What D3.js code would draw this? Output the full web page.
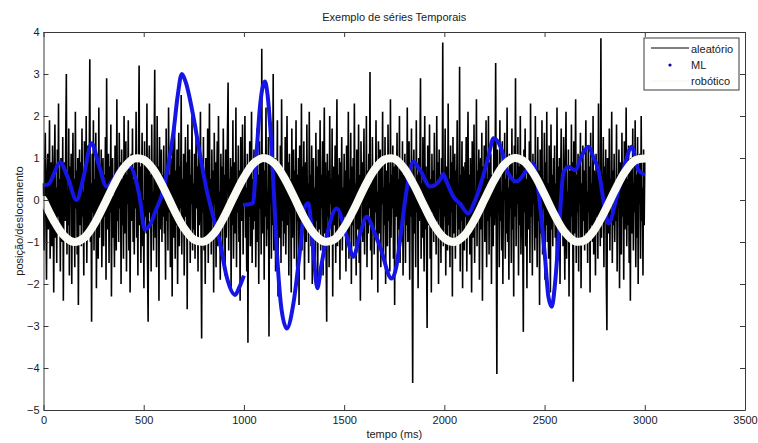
<!DOCTYPE html>
<html>
<head>
<meta charset="utf-8">
<script src="https://cdn.jsdelivr.net/npm/d3@7"></script>
<style>
  body { margin: 0; background: #fff; }
  text { font-family: "Liberation Sans", Arial, sans-serif; font-size: 11px; fill: #1a1a1a; }
</style>
</head>
<body>
<div id="chart"></div>
<script>
// random series ("aleatório"), one sample every 3 ms from 0 to 3000
const noiseValues = [
  0.4,-1.2,0.8,1.6,-0.3,-1.9,0.6,1.1,-0.7,0.2,1.9,-1.4,-0.2,0.9,-1.1,1.3,0.1,-2.2,0.7,1.8,-0.9,0.3,-1.5,1.2,-0.4,2.3,-0.8,0.5,-1.7,1.0,0.0,-1.0,1.5,-2.4,0.6,0.9,-0.5,1.4,3.0,-1.3,0.2,-0.6,1.7,-1.8,0.8,-0.1,1.1,-2.0,0.4,1.6,
  -0.9,0.5,-1.6,2.1,-0.2,0.7,-1.3,1.0,-2.5,0.3,1.2,-0.6,0.9,-1.1,1.7,-0.4,0.2,-1.8,1.4,0.6,-0.8,2.0,-1.5,0.1,1.3,-0.7,0.8,3.35,-1.0,0.4,-2.9,1.1,-0.3,1.9,-1.2,0.5,-0.5,1.6,-2.1,0.9,0.0,-1.4,2.2,-0.9,0.7,-0.2,1.2,-1.6,0.3,1.0,
  -1.1,0.6,-0.4,1.5,-1.9,2.9,-0.7,0.2,1.1,-1.5,0.8,-0.3,1.8,-2.3,0.4,1.0,-0.9,0.1,-1.6,1.3,0.7,-1.2,2.4,-0.5,0.3,-1.0,1.6,-0.2,0.9,-2.0,1.2,-0.6,0.5,-1.4,2.0,-0.8,0.0,1.4,-1.7,0.6,-0.1,1.9,-1.2,0.8,-2.2,0.3,1.1,-0.5,1.7,-1.0,
  0.5,-1.3,1.0,-0.2,2.1,-0.9,0.4,-1.8,1.2,3.2,-0.6,0.8,-1.5,0.3,1.6,-1.1,0.0,-2.1,1.4,-0.4,0.9,-0.8,2.3,-1.4,-2.9,0.7,1.3,-0.3,0.6,-1.7,1.8,-0.5,0.2,-1.2,1.1,3.1,-0.9,0.4,-1.6,2.0,-0.1,0.8,-2.4,1.5,-0.7,0.3,1.2,-1.0,0.6,-0.4,
  1.3,-0.8,0.2,-1.9,1.7,-0.5,0.9,-1.2,2.2,-0.3,0.6,-1.6,1.0,-0.1,-2.3,1.4,0.4,-0.9,1.9,-1.4,0.7,-0.6,1.2,-2.0,0.3,1.6,-1.1,0.8,-0.2,2.5,-1.3,0.5,-0.7,1.1,-1.8,0.1,1.5,-0.4,0.9,-2.6,1.8,-0.9,0.3,1.2,-1.5,0.6,-0.1,2.0,-1.2,0.4,
  -0.7,1.1,-1.4,0.5,1.8,-0.2,0.8,-1.7,1.3,-0.6,0.2,2.1,-1.0,-3.3,0.9,-0.3,1.5,-1.2,0.4,-2.0,1.0,0.6,-0.9,1.7,-1.5,0.1,2.3,-0.8,0.5,-1.3,1.2,-0.4,0.7,-2.2,1.6,-0.1,0.9,-1.6,0.3,1.4,-1.1,2.0,-0.5,0.2,-1.9,1.1,-0.7,0.8,-1.3,1.7,
  -0.4,0.6,-1.8,1.2,-0.9,0.3,1.6,2.8,-1.2,0.5,-0.2,1.0,-2.1,0.8,-0.6,1.9,-1.4,0.2,0.9,-0.8,2.2,-1.6,0.4,-0.3,1.3,-1.0,0.7,-2.4,1.5,0.1,-0.5,1.8,-1.3,0.6,-0.1,2.0,-0.9,0.3,-1.7,1.1,-3.4,0.8,-0.4,1.4,-1.1,0.0,2.1,-1.5,0.5,-0.7,
  1.2,-0.5,0.8,-1.6,0.3,1.7,-1.0,0.6,-2.0,1.4,-0.2,0.9,-1.3,3.6,-0.8,0.4,1.1,-1.9,0.7,-0.4,2.2,-1.1,0.2,-0.7,1.5,-3.25,0.9,-0.1,1.6,-1.4,0.5,-0.6,3.0,-1.2,0.3,1.0,-1.7,0.8,-0.3,1.9,-2.3,0.6,0.1,-0.9,1.3,-1.5,2.4,-0.5,0.7,-1.1,
  0.4,-0.8,1.5,-1.3,0.2,2.0,-0.6,0.9,-1.8,1.1,-0.3,0.5,-2.2,1.7,-0.9,0.3,1.2,-1.4,0.7,-0.1,1.9,-1.6,0.6,-0.5,1.0,-2.5,1.3,0.0,-0.7,2.3,-1.2,0.8,-0.4,1.4,-1.9,0.2,0.9,-1.0,1.8,-0.6,0.4,-1.5,2.1,-0.2,0.6,-1.1,1.3,-2.0,0.5,1.0,
  -0.9,0.3,-1.4,1.6,-0.5,0.8,-2.1,1.2,0.1,-0.7,1.9,-1.2,0.6,-0.2,1.4,-1.8,0.4,2.2,-0.8,0.9,-1.3,-2.9,1.1,-0.4,0.7,-1.6,2.0,-0.1,0.5,-1.0,1.7,-2.3,0.8,0.2,-0.6,1.3,-1.5,0.4,2.4,-1.1,0.6,-0.3,1.0,-1.9,0.9,-0.5,1.5,-1.2,0.3,-0.8,
  1.1,-0.4,0.7,-1.7,1.3,-0.9,0.2,2.1,-1.4,0.5,-0.2,1.6,-2.0,0.8,-0.6,1.0,-1.1,2.3,-0.3,0.4,-1.8,1.2,0.0,-0.7,1.8,-1.5,0.6,-2.4,1.4,-0.1,0.9,-1.0,0.3,1.7,-1.3,0.5,-0.5,2.0,-1.6,0.7,-0.8,1.1,-0.2,3.05,-1.2,0.4,-1.9,1.5,-0.6,0.8,
  -1.3,0.6,-0.3,1.9,-1.0,0.2,-2.2,1.4,0.5,-0.8,1.2,-1.6,0.9,-0.1,2.1,-1.3,0.3,-0.6,1.5,-2.0,0.7,0.1,-1.1,1.8,-0.5,0.4,-1.7,2.4,-0.9,0.6,-0.2,1.3,-1.4,0.8,-2.5,1.0,-0.4,0.2,1.6,-1.2,0.5,-0.7,2.0,-1.5,0.3,0.9,-1.0,1.4,-1.8,0.6,
  -0.2,1.1,-1.5,0.7,-0.6,2.2,-1.0,0.3,1.4,-1.9,0.8,-0.4,1.7,-1.2,-4.36,0.5,1.2,-0.8,0.2,-1.6,1.9,-0.3,0.6,-2.1,1.0,-0.5,0.9,2.9,-1.4,0.4,-0.9,1.5,-0.1,-1.7,2.0,-0.7,0.8,-1.2,-3.05,1.3,0.1,-0.6,1.8,-1.4,0.5,-2.2,1.1,-0.3,0.7,-1.0,
  1.6,-0.7,0.4,-1.3,2.0,-0.5,0.9,-2.0,1.2,-0.2,0.6,-1.5,1.0,-0.9,3.75,-1.1,0.3,-0.4,1.7,-1.8,0.8,0.0,-1.2,2.3,-0.6,0.5,-1.6,1.3,-0.3,0.9,-2.3,1.5,-0.8,0.2,1.1,-1.4,0.7,-0.1,1.9,-1.0,0.4,-0.7,3.17,-1.7,0.6,-0.5,1.4,-2.1,0.8,0.2,
  -1.2,0.9,-0.4,1.5,-1.7,0.3,2.1,-0.8,0.6,-1.3,1.0,-0.1,-2.2,1.4,0.5,-0.9,1.8,-1.5,0.2,-0.6,2.4,-1.1,0.7,-0.3,1.2,-1.9,0.4,1.0,-0.7,1.6,-2.4,0.8,-0.2,1.3,-1.0,0.1,1.9,-1.6,0.5,-0.5,2.0,-1.3,0.9,-0.4,1.1,-2.0,0.6,0.3,-1.1,1.5,
  -0.6,0.4,3.26,-0.9,-4.14,1.2,-0.3,0.8,-1.6,1.9,-0.5,0.2,-1.2,1.4,-2.0,0.7,0.0,1.6,-1.4,0.5,-0.8,2.2,-1.0,0.3,-1.9,1.1,-0.2,0.9,-1.5,1.7,-0.7,0.4,-2.3,1.3,-0.4,2.9,-1.1,0.6,-0.1,1.5,-1.8,0.8,-0.6,2.0,-1.3,0.2,1.0,-0.9,-3.14,1.2,
  -0.3,1.7,-1.1,0.5,-2.1,0.9,0.2,-0.7,1.4,-1.5,2.3,-0.4,0.6,-1.8,1.1,-0.1,0.8,-1.2,2.0,-0.9,0.3,-1.6,1.5,-0.5,0.7,-2.5,1.2,0.1,-0.8,1.9,-1.3,0.5,-0.2,1.6,-1.9,0.9,-0.6,2.1,-1.0,0.4,-1.4,1.3,0.0,-2.2,1.8,-0.7,0.6,-1.1,1.0,-0.4,
  1.3,-0.9,0.4,-1.6,2.2,-0.6,0.8,-1.3,1.0,-2.0,0.3,1.7,-0.5,0.6,-1.1,1.5,-0.2,-1.9,0.9,2.1,-1.4,0.2,-0.7,1.2,-2.3,0.7,0.5,-1.0,1.8,-0.4,0.9,-4.33,1.4,-0.8,0.1,2.4,-1.5,0.6,-0.3,1.1,-1.7,0.8,-0.1,1.6,-2.1,0.4,-0.9,1.3,-0.5,0.7,
  -1.2,0.5,1.9,-0.8,0.2,-1.5,1.3,-0.3,0.8,-2.2,1.6,-0.6,0.4,-1.0,2.0,-1.3,0.7,0.1,-1.8,1.1,-0.4,0.9,-1.4,2.3,-0.7,0.3,-1.1,3.85,-0.9,0.6,-0.2,1.5,-1.6,0.8,-0.5,1.2,-1.9,-3.1,1.0,0.4,-0.8,1.7,-1.2,0.5,-0.1,2.1,-1.5,0.7,-0.6,1.1,
  -1.0,0.3,-0.5,1.8,-1.7,0.6,-0.2,1.2,-2.1,0.9,0.2,-1.3,1.6,-0.4,0.8,-1.9,1.4,-0.7,0.1,2.2,-1.1,0.5,-0.6,1.3,-1.5,0.7,-2.4,1.0,0.0,-0.8,1.7,-1.2,0.4,-0.3,1.9,-1.6,0.6,-0.9,1.5,-2.0,0.8,-0.1,1.1,-1.4,2.0,-0.5,0.3,-1.8,1.2,-0.6,0.9
];
const noiseEnd = 3000;

// "ML" series (null = gap between the two recorded pieces)
const mlTimes = [0,25,50,82,120,165,200,240,275,315,350,382,432,460,482,505,530,560,598,625,648,670,690,710,748,780,814,850,881,914,956,975,1000,
  1000,
  995,1045,1064,1080,1105,1118,1130,1147,1164,1188,1214,1247,1280,1305,1321,1346,1366,1385,1413,1463,1513,1546,1580,1613,1645,1679,1737,1760,1779,1812,1845,1879,1929,1979,1995,2010,2045,2080,2120,2150,2178,2220,2245,2286,2311,2361,2411,2444,2478,2502,2519,2536,2552,2569,2594,2619,2652,2690,2719,2745,2769,2802,2819,2860,2902,2935,2968,3000];
const mlValues = [0.35,0.37,0.6,0.9,0.55,0.0,0.55,1.35,0.85,0.32,0.5,0.72,0.8,0.5,0.0,-0.7,-0.6,-0.25,0.24,0.9,1.6,2.5,3.0,2.8,1.98,1.1,0.24,-0.45,-1.03,-1.83,-2.26,-2.1,-1.8,
  null,
  -0.12,-0.08,1.19,2.22,2.82,2.5,1.83,0.4,-1.19,-2.62,-3.06,-2.46,-1.19,-0.16,-0.08,-1.19,-2.1,-1.6,-0.87,-0.2,-0.87,-1.35,-0.8,-0.4,-0.7,-1.11,-1.87,-1.6,-0.95,0.24,0.91,0.71,0.32,0.48,0.62,0.45,0.08,-0.1,-0.32,-0.05,0.32,1.03,1.47,1.19,0.71,0.44,0.71,0.87,-0.16,-1.35,-2.3,-2.54,-2.0,-0.95,0.64,0.79,0.71,1.1,1.27,1.0,0.71,-0.24,-0.56,0.08,0.87,1.27,0.71,0.6];

// "robótico" series
const robotTimes = d3.range(0, 3001, 50);
const robotValues = [0,-0.48,-0.84,-1.0,-0.91,-0.6,-0.14,0.35,0.76,0.98,0.96,0.71,0.28,-0.22,-0.66,-0.94,-0.99,-0.8,-0.41,0.08,0.54,0.88,1.0,0.88,0.54,0.07,-0.42,-0.8,-0.99,-0.94,-0.65,-0.21,0.29,0.71,0.96,0.98,0.75,0.34,-0.15,-0.61,-0.91,-1.0,-0.84,-0.47,0.01,0.49,0.85,1.0,0.91,0.59,0.13,-0.36,-0.76,-0.98,-0.96,-0.7,-0.27,0.22,0.66,0.94,0.99];

const xTicks = [0, 500, 1000, 1500, 2000, 2500, 3000, 3500];
const yTicks = [-5, -4, -3, -2, -1, 0, 1, 2, 3, 4];
const legendLabels = ["aleatório", "ML", "robótico"];

const width = 758, height = 443;
const plotLeft = 43.5, plotRight = 745, plotTop = 32, plotBottom = 410;

const svg = d3.select("#chart").append("svg")
  .attr("width", width)
  .attr("height", height);

const x = d3.scaleLinear().domain([0, 3500]).range([plotLeft, plotRight]);
const y = d3.scaleLinear().domain([-5, 4]).range([plotBottom, plotTop]);

// noise line
const noise = noiseValues.map((v, i) => ({ t: i * noiseEnd / (noiseValues.length - 1), v: v }));
svg.append("path")
  .datum(noise)
  .attr("fill", "none")
  .attr("stroke", "#000")
  .attr("stroke-width", 1.6)
  .attr("d", d3.line().x(d => x(d.t)).y(d => y(d.v)));

// ML line, drawn thick like the dense dot markers
const ml = mlTimes.map((t, i) => ({ t: t, v: mlValues[i] }));
svg.append("path")
  .datum(ml)
  .attr("fill", "none")
  .attr("stroke", "#1515e6")
  .attr("stroke-width", 4)
  .attr("stroke-linejoin", "round")
  .attr("d", d3.line().defined(d => d.v !== null).curve(d3.curveMonotoneX).x(d => x(d.t)).y(d => y(d.v)));

// robot line (white)
const robot = robotTimes.map((t, i) => ({ t: t, v: robotValues[i] }));
svg.append("path")
  .datum(robot)
  .attr("fill", "none")
  .attr("stroke", "#fbfbf6")
  .attr("stroke-width", 8)
  .attr("stroke-linecap", "round")
  .attr("d", d3.line().curve(d3.curveCatmullRom).x(d => x(d.t)).y(d => y(d.v)));

// axes, ticks pointing inside on all four sides
const axisColor = "#3a3a3a";
function styleAxis(g) {
  g.selectAll("path, line").attr("stroke", axisColor);
  g.selectAll("text").attr("fill", "#1a1a1a").style("font-size", "11px")
    .style("font-family", "'Liberation Sans', Arial, sans-serif");
}
svg.append("g").attr("transform", `translate(0,${plotBottom})`)
  .call(d3.axisBottom(x).tickValues(xTicks).tickFormat(d3.format("d")).tickSizeInner(-5).tickSizeOuter(0).tickPadding(6))
  .call(styleAxis);
svg.append("g").attr("transform", `translate(${plotLeft},0)`)
  .call(d3.axisLeft(y).tickValues(yTicks).tickFormat(d3.format("d")).tickSizeInner(-5).tickSizeOuter(0).tickPadding(4))
  .call(styleAxis);
svg.append("g").attr("transform", `translate(0,${plotTop})`)
  .call(d3.axisTop(x).tickValues(xTicks).tickSizeInner(-5).tickSizeOuter(0).tickFormat(""))
  .call(styleAxis);
svg.append("g").attr("transform", `translate(${plotRight},0)`)
  .call(d3.axisRight(y).tickValues(yTicks).tickSizeInner(-5).tickSizeOuter(0).tickFormat(""))
  .call(styleAxis);

// titles
svg.append("text")
  .attr("x", (plotLeft + plotRight) / 2).attr("y", 21)
  .attr("text-anchor", "middle")
  .text("Exemplo de séries Temporais");
svg.append("text")
  .attr("x", (plotLeft + plotRight) / 2).attr("y", 438)
  .attr("text-anchor", "middle")
  .text("tempo (ms)");
svg.append("text")
  .attr("transform", `translate(23,${(plotTop + plotBottom) / 2}) rotate(-90)`)
  .attr("text-anchor", "middle")
  .text("posição/deslocamento");

// legend
const lg = svg.append("g").attr("transform", "translate(644,38)");
lg.append("rect")
  .attr("width", 95).attr("height", 52)
  .attr("fill", "#fff").attr("stroke", axisColor);
lg.append("line").attr("x1", 7).attr("x2", 45).attr("y1", 10).attr("y2", 10)
  .attr("stroke", "#000");
lg.append("circle").attr("cx", 26).attr("cy", 27).attr("r", 1.6).attr("fill", "#0a0a8c");
lg.append("line").attr("x1", 7).attr("x2", 45).attr("y1", 43).attr("y2", 43)
  .attr("stroke", "#fbfbf6").attr("stroke-width", 2);
lg.selectAll("text.lbl")
  .data(legendLabels)
  .enter()
  .append("text")
  .attr("class", "lbl")
  .attr("x", 47)
  .attr("y", (d, i) => 14.5 + i * 16)
  .text(d => d);
</script>
</body>
</html>
